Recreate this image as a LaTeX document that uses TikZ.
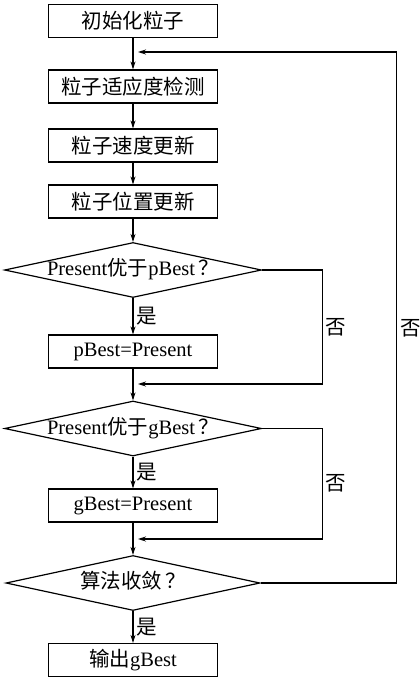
\documentclass[tikz,border=0pt]{standalone}
\usepackage{fontspec}
\setmainfont{Liberation Serif}
\newfontfamily\cjk{Noto Sans CJK SC}
\usetikzlibrary{arrows.meta,shapes.geometric}
\newcommand{\zh}[1]{{\cjk #1}}

\begin{document}
\begin{tikzpicture}[x=1pt,y=-1pt,>={Stealth[length=8pt,width=5pt]},
    every node/.style={font=\fontsize{20.5}{24}\selectfont},
    box/.style={draw,line width=1.2pt,minimum width=169pt,minimum height=33pt,inner sep=2pt},
    dec/.style={draw,line width=1.2pt,diamond,aspect=5,minimum width=254pt,minimum height=55pt,
      inner sep=0pt,text height=14pt,text depth=3pt},
    line/.style={line width=1.1pt}]
      \useasboundingbox (0,0) rectangle (420,678);
      \node[box] (init) at (133,21) {\zh{初始化粒子}};
      \node[box] (fit) at (133,86.5) {\zh{粒子适应度检测}};
      \node[box] (vel) at (133,145.5) {\zh{粒子速度更新}};
      \node[box] (pos) at (133,201.5) {\zh{粒子位置更新}};
      \node[dec] (d1) at (133,270) {Present\zh{优于}pBest\,\zh{？}};
      \node[box] (pb) at (133,351.5) {pBest=Present};
      \node[dec] (d2) at (133,428.5) {Present\zh{优于}gBest\,\zh{？}};
      \node[box] (gb) at (133,505.5) {gBest=Present};
      \node[dec] (d3) at (133,583) {\zh{算法收敛\,？}};
      \node[box] (out) at (133,660) {\zh{输出}gBest};
      \coordinate (m1) at (133,384);
      \coordinate (m2) at (133,539);
      \coordinate (m3) at (133,52);
      \draw[line,->] (init) -- (fit);
      \draw[line,->] (fit) -- (vel);
      \draw[line,->] (vel) -- (pos);
      \draw[line,->] (pos) -- (d1);
      \draw[line,->] (d1) -- node[right] {\zh{是}} (pb);
      \draw[line,->] (pb) -- (d2);
      \draw[line,->] (d2) -- node[right] {\zh{是}} (gb);
      \draw[line,->] (gb) -- (d3);
      \draw[line,->] (d3) -- node[right] {\zh{是}} (out);
      \draw[line,->,shorten >=5pt] (d1.east) -- ++(60,0) |- node[pos=0.25,right] {\zh{否}} (m1);
      \draw[line,->,shorten >=5pt] (d2.east) -- ++(60,0) |- node[pos=0.25,right] {\zh{否}} (m2);
      \draw[line,->,shorten >=5pt] (d3.east) -- ++(136,0) |- node[pos=0.24,right] {\zh{否}} (m3);
    \end{tikzpicture}
\end{document}
